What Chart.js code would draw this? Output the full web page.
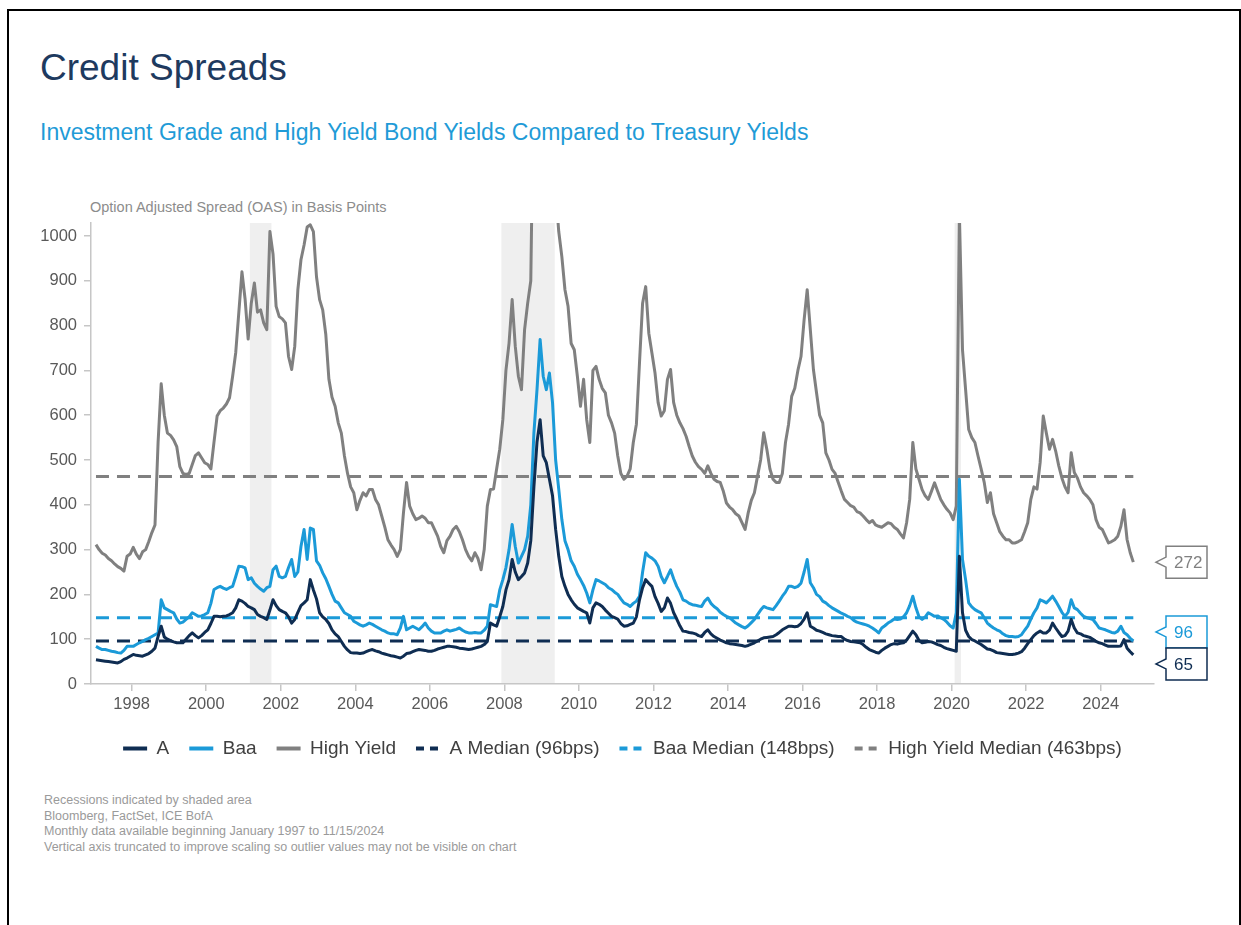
<!DOCTYPE html>
<html>
<head>
<meta charset="utf-8">
<title>Credit Spreads</title>
<script src="https://cdn.jsdelivr.net/npm/chart.js@4.4.1/dist/chart.umd.min.js"></script>
<style>
  html, body { margin: 0; padding: 0; background: #fff; }
  body { width: 1241px; height: 925px; position: relative; overflow: hidden; font-family: "Liberation Sans", Arial, sans-serif; }
  .frame { position: absolute; left: 7px; top: 9px; width: 1234px; height: 1000px; box-sizing: border-box; border: 2px solid #000; }
  .title { position: absolute; left: 40px; top: 49px; font-size: 37px; line-height: 1; color: #1e3a5f; white-space: nowrap; }
  .subtitle { position: absolute; left: 40px; top: 121px; font-size: 23px; line-height: 1; color: #1f9bd7; white-space: nowrap; }
  .axis-title { position: absolute; left: 90px; top: 200px; font-size: 14.5px; line-height: 1; color: #8c8c8c; white-space: nowrap; }
  .notes { position: absolute; left: 44px; top: 793px; font-size: 12.5px; line-height: 15.7px; color: #9a9a9a; white-space: nowrap; }
  #chart { position: absolute; left: 0; top: 200px; }
</style>
</head>
<body>
<div class="frame"></div>
<div class="title">Credit Spreads</div>
<div class="subtitle">Investment Grade and High Yield Bond Yields Compared to Treasury Yields</div>
<div class="axis-title">Option Adjusted Spread (OAS) in Basis Points</div>
<canvas id="chart" width="1241" height="568"></canvas>
<div class="notes">
  Recessions indicated by shaded area<br>
  Bloomberg, FactSet, ICE BofA<br>
  Monthly data available beginning January 1997 to 11/15/2024<br>
  Vertical axis truncated to improve scaling so outlier values may not be visible on chart
</div>

<script>
'use strict';

// ***** DATA *****

// monthly OAS in bps, Jan 1997 - Nov 2024 (one row per year)
let startYear = 1997;

let aSpread = [
  54, 53, 52, 51, 50, 49, 48, 47, 50, 55, 58, 62,
  66, 64, 63, 62, 65, 68, 73, 80, 106, 129, 105, 100,
  97, 94, 92, 92, 92, 100, 108, 114, 108, 103, 108, 115,
  121, 135, 151, 151, 150, 151, 152, 155, 159, 170, 188, 185,
  180, 173, 170, 166, 155, 151, 148, 144, 165, 188, 175, 166,
  162, 159, 150, 136, 144, 160, 175, 181, 188, 233, 210, 190,
  159, 150, 144, 135, 121, 112, 106, 95, 84, 76, 70, 69,
  69, 68, 69, 72, 75, 77, 74, 72, 69, 67, 65, 63,
  62, 60, 58, 62, 68, 69, 72, 75, 77, 76, 75, 73,
  73, 75, 78, 80, 82, 84, 84, 83, 82, 80, 79, 78,
  77, 78, 80, 82, 84, 88, 95, 136, 132, 129, 150, 173,
  210, 233, 278, 250, 233, 240, 248, 270, 320, 440, 540, 590,
  509, 494, 457, 420, 345, 285, 240, 218, 200, 188, 178, 170,
  166, 162, 159, 136, 170, 181, 178, 173, 165, 158, 151, 148,
  145, 135, 129, 130, 133, 136, 150, 188, 215, 233, 225, 218,
  195, 180, 162, 170, 192, 180, 159, 145, 130, 118, 117, 115,
  114, 112, 108, 106, 115, 121, 112, 106, 102, 98, 95, 92,
  90, 89, 88, 87, 86, 84, 86, 89, 92, 96, 100, 103,
  104, 105, 106, 110, 115, 121, 125, 129, 129, 128, 129, 135,
  145, 159, 129, 125, 120, 118, 115, 112, 110, 108, 107, 106,
  106, 100, 97, 95, 94, 93, 92, 88, 82, 77, 74, 71,
  69, 75, 80, 84, 88, 90, 89, 91, 92, 98, 108, 118,
  110, 97, 92, 93, 95, 94, 91, 88, 86, 82, 79, 77,
  75, 73, 285, 159, 120, 106, 99, 96, 92, 88, 83, 78,
  77, 74, 70, 69, 68, 67, 66, 66, 67, 69, 72, 80,
  90, 99, 108, 114, 118, 114, 114, 120, 136, 125, 115, 106,
  108, 118, 144, 125, 114, 112, 108, 106, 104, 100, 95, 92,
  90, 87, 84, 84, 84, 84, 85, 99, 80, 72, 65
];

let baaSpread = [
  84, 80, 77, 77, 75, 73, 72, 70, 69, 75, 84, 84,
  84, 88, 92, 95, 99, 102, 106, 110, 114, 188, 170, 166,
  162, 159, 145, 136, 138, 144, 150, 159, 155, 151, 152, 155,
  159, 180, 211, 215, 218, 214, 211, 215, 218, 240, 263, 262,
  259, 233, 237, 225, 218, 212, 207, 215, 218, 255, 263, 240,
  237, 240, 260, 278, 240, 250, 307, 345, 278, 348, 345, 275,
  265, 248, 235, 218, 200, 185, 181, 170, 159, 155, 151, 140,
  136, 132, 129, 132, 136, 133, 129, 125, 121, 118, 114, 112,
  112, 110, 125, 151, 121, 125, 129, 125, 121, 128, 136, 125,
  118, 114, 114, 114, 118, 121, 118, 120, 122, 125, 120, 116,
  114, 114, 115, 114, 114, 120, 129, 177, 175, 173, 210, 233,
  260, 300, 356, 307, 270, 285, 300, 330, 400, 560, 657, 769,
  687, 657, 694, 628, 500, 435, 367, 320, 300, 275, 263, 245,
  233, 220, 203, 181, 210, 233, 230, 226, 222, 215, 211, 205,
  200, 190, 181, 178, 173, 180, 185, 196, 250, 293, 285, 281,
  275, 263, 240, 226, 240, 255, 235, 218, 205, 188, 185, 180,
  177, 176, 174, 173, 185, 192, 180, 173, 168, 160, 155, 151,
  148, 142, 136, 132, 128, 125, 130, 137, 144, 155, 165, 173,
  170, 168, 166, 175, 185, 196, 205, 218, 218, 215, 218, 225,
  250, 278, 226, 215, 200, 195, 185, 181, 175, 170, 166, 162,
  158, 155, 151, 148, 142, 138, 136, 134, 132, 129, 125, 120,
  114, 125, 130, 136, 140, 145, 144, 145, 150, 159, 175, 196,
  170, 150, 144, 150, 159, 155, 151, 152, 148, 144, 138, 130,
  125, 159, 457, 278, 233, 181, 172, 166, 162, 159, 148, 136,
  130, 125, 121, 118, 112, 108, 106, 106, 105, 106, 110, 120,
  129, 145, 159, 170, 188, 185, 181, 188, 196, 185, 173, 160,
  151, 160, 188, 170, 166, 158, 151, 148, 146, 144, 135, 125,
  123, 121, 118, 115, 114, 118, 129, 115, 110, 102, 96
];

let highYield = [
  311, 300, 292, 288, 280, 275, 268, 262, 258, 252, 285, 290,
  305, 290, 280, 295, 300, 318, 338, 355, 540, 670, 600, 560,
  555, 545, 530, 485, 470, 468, 470, 490, 510, 516, 505, 494,
  490, 480, 540, 598, 610, 616, 625, 639, 687, 740, 830, 920,
  860, 770, 850, 895, 830, 835, 806, 791, 1010, 960, 843, 820,
  815, 806, 731, 702, 754, 880, 947, 980, 1020, 1025, 1010, 909,
  858, 835, 780, 680, 640, 620, 583, 560, 509, 470, 440, 427,
  389, 410, 427, 420, 434, 434, 412, 400, 375, 350, 322, 310,
  300, 285, 300, 382, 450, 397, 380, 367, 370, 375, 370, 360,
  360, 345, 330, 307, 293, 320, 330, 345, 352, 340, 322, 300,
  285, 275, 293, 280, 255, 300, 397, 434, 435, 480, 524, 590,
  700, 761, 858, 754, 687, 657, 791, 850, 900, 1400, 1700, 1800,
  1600, 1500, 1600, 1300, 1100, 1010, 954, 880, 843, 760, 746, 687,
  620, 680, 590, 539, 700, 709, 680, 660, 650, 600, 583, 560,
  509, 470, 457, 464, 480, 539, 580, 717, 850, 887, 783, 739,
  694, 628, 598, 610, 680, 702, 628, 600, 583, 570, 553, 530,
  509, 495, 485, 479, 470, 487, 470, 457, 452, 450, 430, 404,
  395, 389, 380, 375, 360, 345, 382, 410, 427, 464, 500, 561,
  524, 480, 457, 450, 450, 470, 539, 580, 642, 660, 700, 731,
  813, 880, 791, 702, 650, 600, 583, 516, 500, 479, 470, 450,
  430, 412, 405, 398, 395, 385, 382, 375, 367, 360, 365, 355,
  352, 350, 355, 360, 358, 350, 345, 335, 326, 360, 412, 539,
  480, 457, 434, 420, 412, 430, 449, 430, 412, 400, 390, 382,
  367, 397, 1050, 746, 657, 568, 550, 539, 509, 480, 450, 405,
  427, 380, 360, 340, 330, 322, 322, 315, 315, 318, 322, 340,
  360, 412, 440, 435, 494, 598, 560, 524, 546, 520, 487, 460,
  440, 427, 516, 472, 460, 440, 427, 420, 412, 400, 367, 350,
  345, 330, 315, 318, 322, 330, 352, 389, 322, 293, 272
];

// medians from the legend
let aMedian = 96;
let baaMedian = 148;
let hyMedian = 463;

// recessions as decimal years
let recessions = [[2001.17, 2001.75], [2007.92, 2009.35], [2020.08, 2020.25]];

let xTickYears = [1998, 2000, 2002, 2004, 2006, 2008, 2010, 2012, 2014, 2016, 2018, 2020, 2022, 2024];
let yTickValues = [0, 100, 200, 300, 400, 500, 600, 700, 800, 900, 1000];

// ***** COLORS *****

let navy = '#0f2d52';
let blue = '#1b9ad8';
let gray = '#808080';

// ***** HELPERS *****

// mid-month position of each monthly value
let months = aSpread.map((v, i) => startYear + (i + 0.5) / 12);

function toPoints(values) {
  return values.map((v, i) => ({ x: months[i], y: v }));
}

function medianLine(value) {
  return [{ x: months[0], y: value }, { x: months[months.length - 1], y: value }];
}

// ***** PLUGINS *****

let recessionShading = {
  id: 'recessionShading',
  beforeDatasetsDraw(chart) {
    let { ctx, chartArea, scales } = chart;
    ctx.save();
    ctx.fillStyle = '#efefef';
    recessions.forEach(r => {
      let x0 = scales.x.getPixelForValue(r[0]);
      let x1 = scales.x.getPixelForValue(r[1]);
      ctx.fillRect(x0, chartArea.top, Math.max(x1 - x0, 1.5), chartArea.bottom - chartArea.top - 1);
    });
    ctx.restore();
  }
};

let lastValueTags = {
  id: 'lastValueTags',
  afterDatasetsDraw(chart) {
    let { ctx, chartArea, scales } = chart;
    let boxH = 32;
    let tags = [
      { value: highYield[highYield.length - 1], color: gray, text: '#808080' },
      { value: baaSpread[baaSpread.length - 1], color: blue, text: blue },
      { value: aSpread[aSpread.length - 1], color: navy, text: navy }
    ];
    tags.forEach(t => { t.y = scales.y.getPixelForValue(t.value); });
    tags.sort((a, b) => a.y - b.y);
    for (let i = 1; i < tags.length; i++) {
      if (tags[i].y - tags[i - 1].y < boxH) {
        let mid = (tags[i].y + tags[i - 1].y) / 2;
        tags[i - 1].y = mid - boxH / 2;
        tags[i].y = mid + boxH / 2;
      }
    }

    let tipX = chartArea.right + 2;
    let left = tipX + 10;
    let right = left + 41;
    ctx.save();
    ctx.font = '17px "Liberation Sans", Arial, sans-serif';
    ctx.textBaseline = 'middle';
    tags.forEach(t => {
      let top = t.y - boxH / 2;
      let bottom = t.y + boxH / 2;
      ctx.beginPath();
      ctx.moveTo(left, top);
      ctx.lineTo(right, top);
      ctx.lineTo(right, bottom);
      ctx.lineTo(left, bottom);
      ctx.lineTo(left, t.y + 5);
      ctx.lineTo(tipX, t.y);
      ctx.lineTo(left, t.y - 5);
      ctx.closePath();
      ctx.fillStyle = '#fff';
      ctx.fill();
      ctx.lineWidth = 1.5;
      ctx.strokeStyle = t.color;
      ctx.stroke();
      ctx.fillStyle = t.text;
      ctx.fillText(String(t.value), left + 8, t.y + 1);
    });
    ctx.restore();
  }
};

// ***** CHART *****

Chart.defaults.font.family = '"Liberation Sans", Arial, sans-serif';

let ctx = document.getElementById('chart');

let chartObj = {
  type: 'line',
  data: {
    datasets: [
      { label: 'A', data: toPoints(aSpread), borderColor: navy, borderWidth: 3 },
      { label: 'Baa', data: toPoints(baaSpread), borderColor: blue, borderWidth: 3 },
      { label: 'High Yield', data: toPoints(highYield), borderColor: gray, borderWidth: 3 },
      { label: 'A Median (96bps)', data: medianLine(aMedian), borderColor: navy, borderWidth: 3, borderDash: [13, 8] },
      { label: 'Baa Median (148bps)', data: medianLine(baaMedian), borderColor: blue, borderWidth: 3, borderDash: [13, 8] },
      { label: 'High Yield Median (463bps)', data: medianLine(hyMedian), borderColor: gray, borderWidth: 3, borderDash: [13, 8] }
    ]
  },
  options: {
    responsive: false,
    animation: false,
    events: [],
    layout: { padding: { left: 0, right: 87, top: 23, bottom: 0 } },
    elements: {
      point: { radius: 0 },
      line: { tension: 0, borderJoinStyle: 'round', borderCapStyle: 'butt' }
    },
    scales: {
      x: {
        type: 'linear',
        min: 1996.908,
        max: 2025.43,
        afterBuildTicks: s => { s.ticks = xTickYears.map(v => ({ value: v })); },
        afterFit: s => { s.height = 35; },
        ticks: {
          autoSkip: false,
          maxRotation: 0,
          padding: 4,
          color: '#595959',
          font: { size: 16.5 },
          callback: v => String(v)
        },
        grid: { drawOnChartArea: false, tickLength: 7, color: '#c6c6c6', lineWidth: 1.5 },
        border: { color: '#c6c6c6', width: 1.5 }
      },
      y: {
        min: 0,
        max: 1029,
        afterBuildTicks: s => { s.ticks = yTickValues.map(v => ({ value: v })); },
        afterFit: s => { s.width = 91; },
        ticks: {
          padding: 7,
          color: '#595959',
          font: { size: 16.5 },
          callback: v => String(v)
        },
        grid: { drawOnChartArea: false, tickLength: 7, color: '#c6c6c6', lineWidth: 1.5 },
        border: { color: '#c6c6c6', width: 1.5 }
      }
    },
    plugins: {
      tooltip: { enabled: false },
      legend: {
        position: 'bottom',
        fullSize: false,
        labels: {
          usePointStyle: true,
          pointStyleWidth: 24,
          padding: 20,
          color: '#404040',
          font: { size: 19 },
          generateLabels: chart => chart.data.datasets.map((ds, i) => ({
            text: ds.label,
            fillStyle: ds.borderColor,
            strokeStyle: ds.borderColor,
            lineWidth: 4,
            lineDash: ds.borderDash ? [8, 6] : [],
            pointStyle: 'line',
            hidden: false,
            datasetIndex: i,
            fontColor: '#404040'
          }))
        }
      }
    }
  },
  plugins: [recessionShading, lastValueTags]
};

new Chart(ctx, chartObj);
</script>
</body>
</html>
